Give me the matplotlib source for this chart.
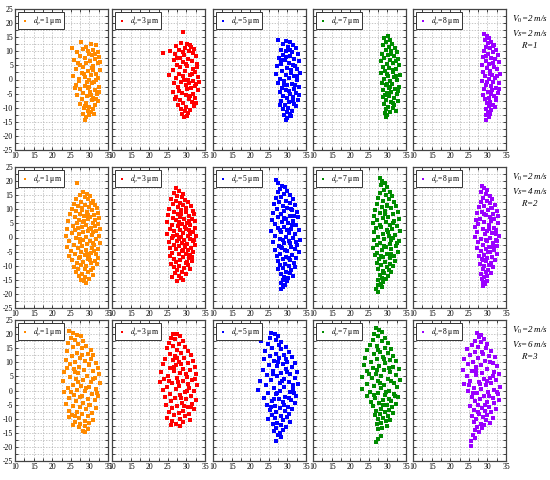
import numpy as np
import matplotlib
matplotlib.use('Agg')
import matplotlib.pyplot as plt
from matplotlib.ticker import MultipleLocator

plt.rcParams['font.family'] = ['Liberation Serif', 'DejaVu Serif']
plt.rcParams['mathtext.fontset'] = 'stix'
plt.rcParams['axes.unicode_minus'] = False

# particle positions (x, y), one list per panel
# row 1: V0=2 m/s, Vs=2 m/s, R=1
r1_d1 = [(27.8,13.2),(30.5,12.6),(31.7,12.1),(29.2,11.5),(25.2,11.0),(28.4,10.8),(31.0,10.3),(32.2,9.9),(26.6,9.6),(29.9,9.2),
         (30.8,8.6),(27.5,8.3),(32.7,8.0),(28.9,7.6),(31.6,7.2),(25.9,6.9),(30.2,6.5),(29.0,6.0),(32.4,5.7),(27.4,5.3),
         (31.1,4.9),(28.3,4.4),(30.6,4.0),(26.3,3.7),(32.9,3.3),(29.6,2.9),(27.9,2.4),(31.8,2.1),(30.3,1.6),(25.6,1.2),
         (28.7,0.8),(32.3,0.4),(29.9,0.0),(27.1,-0.5),(31.3,-0.9),(30.6,-1.3),(26.5,-1.8),(28.9,-2.2),(32.6,-2.6),(29.7,-3.0),
         (27.6,-3.5),(31.5,-3.9),(30.2,-4.3),(28.2,-4.8),(32.1,-5.2),(26.8,-5.6),(29.4,-6.0),(31.0,-6.5),(28.0,-7.0),(30.7,-7.4),
         (32.4,-7.8),(29.1,-8.3),(27.4,-8.8),(31.6,-9.2),(30.0,-9.6),(28.6,-10.1),(31.1,-10.6),(29.5,-11.0),(30.5,-11.6),(28.2,-12.1),
         (29.8,-12.7),(31.3,-12.3),(29.1,-13.4),(28.8,-14.2),(30.9,3.5),(29.3,-1.0),(31.9,-0.2),(28.5,1.8),(30.4,-5.5),(32.8,6.2),
         (27.0,5.9),(31.4,8.9),(29.6,10.1),(30.0,-2.8),(31.7,-7.0),(28.9,-9.4),(27.3,0.3),(32.5,-4.5),(26.0,-3.0)]
r1_d3 = [(29.0,17.0),(28.6,13.1),(30.2,12.7),(31.1,12.2),(27.2,11.8),(29.5,11.3),(32.0,10.9),(28.1,10.5),(23.8,9.5),(25.7,10.2),
         (30.7,10.0),(31.8,9.4),(27.0,9.0),(29.3,8.6),(32.6,8.2),(28.4,7.7),(30.4,7.3),(26.6,6.9),(31.5,6.5),(29.0,6.1),
         (32.9,5.6),(27.6,5.2),(30.1,4.8),(28.3,4.3),(31.9,3.9),(26.4,3.4),(29.7,3.0),(32.4,2.6),(27.9,2.1),(30.9,1.7),
         (25.3,1.5),(29.1,1.2),(33.2,0.8),(27.1,0.4),(30.5,0.0),(31.8,-0.4),(28.6,-0.8),(26.7,-1.3),(32.7,-1.7),(29.8,-2.1),
         (27.8,-2.6),(31.2,-3.0),(30.2,-3.5),(33.0,-3.9),(26.5,-4.3),(28.9,-4.7),(31.7,-5.2),(29.9,-5.6),(27.3,-6.1),(32.3,-6.5),
         (30.6,-7.0),(28.3,-7.4),(31.4,-7.9),(29.2,-8.4),(27.7,-8.9),(32.0,-9.3),(30.0,-9.8),(28.5,-10.3),(31.1,-10.8),(29.6,-11.3),
         (30.4,-11.9),(28.9,-12.4),(30.1,-12.9),(29.4,-13.3),(31.5,1.9),(30.0,5.5),(32.2,-2.4),(28.0,-4.0),(29.4,-0.3),(31.0,-6.0),
         (32.8,4.5),(27.5,7.8),(30.8,-1.2),(29.0,9.8),(26.9,-7.0),(32.5,-8.2),(31.2,11.6),(33.3,-0.9)]
r1_d5 = [(27.6,14.0),(29.6,13.5),(30.8,13.2),(28.8,12.6),(31.6,12.1),(30.2,11.6),(32.3,11.0),(28.4,10.6),(29.7,10.1),(31.3,9.7),
         (32.8,9.2),(28.9,8.7),(30.6,8.3),(27.8,7.8),(31.9,7.4),(29.4,6.9),(33.1,6.5),(30.3,6.0),(28.2,5.6),(31.5,5.1),
         (27.3,4.7),(29.8,4.2),(32.6,3.8),(30.9,3.3),(28.6,2.9),(33.3,2.4),(27.0,2.0),(29.5,1.5),(31.8,1.1),(30.4,0.6),
         (28.0,0.2),(32.7,-0.3),(29.2,-0.7),(27.5,-1.2),(31.2,-1.6),(30.0,-2.1),(33.0,-2.5),(28.5,-3.0),(31.9,-3.4),(29.6,-3.9),
         (27.9,-4.4),(32.4,-4.8),(30.7,-5.3),(28.8,-5.8),(31.4,-6.2),(29.9,-6.7),(32.9,-7.1),(28.3,-7.6),(30.5,-8.1),(31.7,-8.6),
         (29.3,-9.0),(32.2,-9.5),(30.1,-10.0),(28.9,-10.5),(31.3,-11.0),(29.8,-11.5),(30.7,-12.1),(29.2,-12.6),(31.0,-13.1),(30.0,-13.7),
         (29.5,-14.3),(31.0,2.4),(29.0,-1.8),(32.0,4.7),(30.3,-4.1),(28.4,6.9),(32.5,1.3),(31.6,-7.5),(29.6,8.0),(30.8,10.6),
         (33.2,-5.5),(28.1,-8.9),(32.0,-2.0)]
r1_d7 = [(30.1,15.3),(29.2,14.6),(30.6,13.9),(29.7,13.2),(31.3,12.7),(28.9,12.1),(30.4,11.6),(32.0,11.1),(29.5,10.6),(31.0,10.1),
         (32.6,9.6),(28.6,9.2),(30.2,8.7),(31.7,8.2),(29.1,7.7),(32.9,7.3),(30.8,6.8),(28.3,6.4),(31.6,5.9),(29.9,5.4),
         (33.1,5.0),(28.8,4.5),(30.5,4.0),(32.2,3.6),(29.4,3.1),(31.4,2.6),(28.2,2.2),(33.3,1.7),(30.1,1.2),(31.9,0.8),
         (29.0,0.3),(32.7,-0.2),(30.6,-0.7),(28.5,-1.1),(31.3,-1.6),(29.7,-2.1),(33.0,-2.5),(30.3,-3.0),(32.0,-3.5),(28.9,-3.9),
         (31.1,-4.4),(29.8,-4.9),(32.5,-5.3),(30.5,-5.8),(28.7,-6.3),(31.7,-6.7),(29.5,-7.2),(32.8,-7.6),(30.9,-8.1),(29.2,-8.6),
         (31.9,-9.1),(30.2,-9.6),(31.4,-10.1),(29.6,-10.6),(32.3,-11.0),(30.7,-11.5),(29.3,-12.0),(30.0,-12.6),(29.7,-13.2),(31.6,3.3),
         (30.0,-1.5),(32.3,6.4),(29.3,-5.5),(31.0,8.9),(32.9,-4.0),(30.8,-2.8),(29.9,2.0),(32.4,1.1),(31.5,-8.4)]
r1_d8 = [(29.0,16.1),(29.8,15.4),(30.5,14.6),(29.3,13.9),(31.1,13.4),(30.1,12.8),(31.8,12.2),(29.5,11.6),(30.8,11.1),(32.3,10.6),
         (29.0,10.1),(31.4,9.6),(30.2,9.1),(32.8,8.6),(28.7,8.1),(30.9,7.6),(32.0,7.1),(29.6,6.6),(33.1,6.1),(30.4,5.6),
         (28.5,5.1),(31.7,4.6),(29.9,4.1),(32.6,3.6),(30.8,3.1),(28.9,2.6),(33.3,2.1),(31.2,1.6),(29.4,1.1),(32.1,0.6),
         (30.3,0.1),(28.6,-0.4),(31.6,-0.9),(33.0,-1.4),(29.7,-1.9),(30.9,-2.4),(32.4,-2.9),(29.0,-3.4),(31.3,-3.9),(30.1,-4.4),
         (32.8,-4.9),(28.8,-5.4),(31.9,-5.9),(30.5,-6.4),(29.3,-6.9),(32.3,-7.4),(30.8,-7.9),(29.8,-8.4),(31.6,-8.9),(30.3,-9.4),
         (32.0,-9.9),(29.5,-10.4),(31.1,-10.9),(30.2,-11.5),(30.8,-12.1),(29.7,-12.7),(30.4,-13.3),(29.5,-14.2),(31.5,5.8),(30.0,-0.8),
         (32.5,1.2),(31.0,-5.0),(29.6,8.5),(33.0,-3.5),(32.2,-6.6),(30.6,2.0),(31.4,11.8)]

# row 2: V0=2 m/s, Vs=4 m/s, R=2
r2_d1 = [(26.8,19.4),(28.3,16.0),(29.4,15.6),(27.5,15.1),(30.1,14.7),(28.9,14.3),(26.4,13.8),(29.6,13.5),(31.0,13.1),(27.8,12.7),
         (30.4,12.3),(25.8,12.0),(28.7,11.7),(31.6,11.4),(27.0,11.0),(29.9,10.7),(32.0,10.3),(25.2,10.1),(28.1,9.9),(30.8,9.6),
         (26.5,9.3),(29.3,9.0),(32.4,8.8),(27.6,8.5),(24.8,8.2),(31.2,8.0),(28.6,7.7),(30.2,7.4),(26.1,7.1),(32.7,6.9),
         (29.5,6.6),(27.3,6.3),(31.6,6.1),(24.3,5.8),(28.2,5.6),(30.9,5.3),(26.8,5.0),(32.2,4.8),(29.1,4.5),(25.5,4.2),
         (31.5,4.0),(27.9,3.7),(30.3,3.4),(24.0,3.1),(32.8,2.9),(26.2,2.6),(29.5,2.3),(28.4,2.0),(31.1,1.8),(25.3,1.5),
         (27.2,1.2),(30.6,0.9),(32.5,0.6),(23.7,0.4),(29.0,0.1),(26.5,-0.2),(31.8,-0.5),(28.3,-0.8),(30.1,-1.1),(24.6,-1.4),
         (27.6,-1.7),(32.9,-1.9),(29.4,-2.2),(25.8,-2.5),(31.3,-2.8),(28.0,-3.1),(23.9,-3.4),(30.7,-3.7),(26.9,-3.9),(32.3,-4.2),
         (29.1,-4.5),(25.1,-4.8),(27.8,-5.1),(30.5,-5.4),(31.9,-5.7),(26.2,-5.9),(28.7,-6.2),(24.6,-6.5),(30.0,-6.8),(32.4,-7.1),
         (27.2,-7.4),(29.6,-7.7),(25.4,-8.0),(31.4,-8.3),(28.3,-8.6),(26.6,-8.9),(30.4,-9.2),(32.0,-9.5),(27.7,-9.8),(29.2,-10.1),
         (25.9,-10.4),(31.0,-10.7),(27.0,-11.0),(28.8,-11.3),(30.3,-11.7),(26.5,-12.1),(29.7,-12.4),(28.0,-12.8),(31.0,-13.2),(27.3,-13.6),
         (28.9,-14.1),(29.9,-14.6),(27.8,-15.0),(28.5,-15.6),(29.0,-16.3),(29.8,3.0),(27.5,-0.4),(30.9,-2.0),(28.6,6.0),(31.7,2.2),
         (29.3,-5.8),(26.9,3.5),(30.2,-8.0),(28.1,10.6),(31.3,-4.8),(27.4,-6.8),(29.7,8.1)]
r2_d3 = [(27.2,17.6),(28.1,16.6),(26.6,15.8),(29.0,15.3),(27.6,14.7),(28.8,14.2),(25.9,13.7),(29.7,13.4),(27.1,13.0),(30.5,12.6),
         (28.4,12.2),(26.3,11.8),(29.2,11.5),(31.2,11.1),(27.7,10.8),(30.0,10.4),(25.3,10.1),(28.6,9.8),(31.7,9.5),(26.8,9.2),
         (29.9,8.9),(27.8,8.5),(32.0,8.2),(25.0,7.9),(30.6,7.6),(28.3,7.3),(26.4,7.0),(31.5,6.7),(29.3,6.4),(27.3,6.1),
         (32.2,5.8),(24.7,5.5),(30.1,5.2),(28.8,4.9),(26.1,4.6),(31.1,4.3),(27.7,4.0),(29.6,3.7),(32.4,3.4),(25.5,3.1),
         (30.7,2.8),(28.2,2.5),(26.8,2.2),(31.8,1.9),(29.1,1.6),(24.9,1.3),(27.4,1.0),(30.3,0.7),(32.5,0.4),(28.5,0.1),
         (26.2,-0.2),(30.9,-0.5),(29.4,-0.8),(27.6,-1.1),(31.9,-1.4),(25.2,-1.7),(28.7,-1.9),(30.2,-2.2),(26.8,-2.5),(32.2,-2.8),
         (28.0,-3.1),(29.6,-3.4),(25.7,-3.7),(31.2,-3.9),(27.3,-4.2),(30.5,-4.5),(28.9,-4.8),(31.8,-5.1),(26.1,-5.4),(29.8,-5.7),
         (27.9,-6.0),(31.0,-6.3),(25.6,-6.6),(29.2,-6.9),(30.6,-7.2),(26.8,-7.6),(28.4,-8.0),(31.4,-8.3),(27.2,-8.7),(29.8,-9.0),
         (25.9,-9.4),(30.5,-9.7),(28.0,-10.1),(26.6,-10.5),(29.3,-10.8),(31.0,-11.2),(27.5,-11.6),(28.7,-12.1),(26.9,-12.6),(29.9,-13.0),
         (27.9,-13.5),(26.0,-13.9),(28.6,-14.5),(29.2,-15.1),(27.6,-15.3),(30.0,3.0),(28.0,-0.4),(31.0,1.2),(29.0,-4.3),(30.8,5.9),
         (27.9,5.5),(29.5,-2.5),(31.5,-6.8),(28.6,8.2),(26.5,0.5),(30.2,-8.6),(32.0,-0.8)]
r2_d5 = [(27.0,20.3),(27.6,19.2),(28.5,18.4),(29.4,17.9),(28.0,17.1),(30.0,16.5),(27.4,16.0),(29.0,15.5),(30.8,15.0),(28.2,14.5),
         (26.9,14.0),(31.5,13.6),(29.6,13.1),(27.8,12.6),(30.6,12.2),(26.4,11.8),(32.1,11.4),(28.8,11.0),(30.0,10.6),(27.2,10.2),
         (31.3,9.8),(29.2,9.4),(32.6,9.0),(26.1,8.6),(28.3,8.2),(30.7,7.8),(27.5,7.4),(32.9,7.1),(29.5,6.7),(25.8,6.3),
         (31.6,5.9),(28.6,5.5),(30.2,5.1),(26.8,4.7),(32.4,4.3),(29.0,3.9),(27.4,3.5),(31.1,3.1),(33.2,2.7),(25.6,2.3),
         (28.3,1.9),(30.5,1.5),(32.0,1.1),(26.6,0.7),(29.7,0.3),(31.6,-0.1),(27.9,-0.5),(33.3,-0.9),(30.3,-1.3),(26.2,-1.7),
         (29.1,-2.1),(32.5,-2.5),(27.7,-2.9),(30.9,-3.3),(28.6,-3.7),(32.0,-4.1),(26.7,-4.5),(30.0,-4.9),(33.0,-5.3),(28.1,-5.7),
         (31.3,-6.1),(27.2,-6.5),(29.6,-6.9),(32.3,-7.3),(28.8,-7.7),(30.7,-8.1),(27.4,-8.5),(31.8,-8.9),(29.3,-9.3),(28.0,-9.7),
         (30.4,-10.1),(32.0,-10.5),(28.7,-10.9),(27.6,-11.3),(31.1,-11.7),(29.5,-12.1),(30.6,-12.6),(28.3,-13.0),(31.5,-13.5),(29.1,-14.0),
         (30.2,-14.5),(28.7,-15.0),(29.8,-15.6),(28.4,-16.2),(29.4,-16.8),(28.9,-17.5),(28.2,-18.3),(30.0,2.5),(28.9,-0.9),(31.2,4.6),
         (29.4,-4.5),(30.8,-2.0),(27.9,2.8),(31.9,7.5),(30.3,-7.2),(29.0,7.0),(32.4,-1.5),(28.2,-3.3),(31.0,10.0)]
r2_d7 = [(28.0,21.0),(28.6,20.1),(29.3,19.3),(28.3,18.5),(30.0,17.8),(29.0,17.0),(30.7,16.3),(28.0,15.7),(29.6,15.1),(31.3,14.6),
         (27.5,14.1),(30.3,13.5),(28.8,13.0),(31.9,12.5),(27.2,12.0),(29.9,11.6),(32.4,11.2),(28.5,10.7),(30.9,10.3),(26.8,9.9),
         (29.3,9.4),(32.8,9.0),(27.9,8.6),(31.5,8.2),(26.4,7.8),(30.2,7.4),(28.7,7.0),(33.1,6.6),(27.3,6.2),(31.8,5.8),
         (29.5,5.4),(26.1,5.0),(30.6,4.6),(32.6,4.2),(28.2,3.8),(27.0,3.4),(31.2,3.0),(29.8,2.6),(33.3,2.2),(26.3,1.8),
         (28.9,1.4),(32.1,1.0),(30.4,0.6),(27.6,0.2),(31.6,-0.2),(29.2,-0.6),(26.5,-1.0),(33.0,-1.4),(28.1,-1.8),(30.7,-2.2),
         (27.3,-2.6),(32.3,-3.0),(29.6,-3.4),(26.2,-3.8),(31.1,-4.2),(28.5,-4.6),(32.8,-5.0),(27.2,-5.4),(30.0,-5.8),(26.7,-6.2),
         (31.7,-6.6),(28.9,-7.0),(30.6,-7.4),(27.8,-7.8),(32.0,-8.2),(29.3,-8.6),(27.1,-9.0),(30.8,-9.4),(28.4,-9.8),(31.4,-10.2),
         (29.8,-10.6),(27.6,-11.0),(30.3,-11.4),(28.7,-11.8),(31.0,-12.2),(29.1,-12.7),(27.9,-13.2),(30.2,-13.7),(28.6,-14.2),(29.6,-14.7),
         (27.4,-15.2),(28.9,-15.8),(28.2,-16.4),(27.6,-17.0),(28.6,-17.6),(27.0,-18.4),(27.4,-19.3),(30.1,1.9),(29.0,-2.9),(31.5,5.0),
         (28.0,4.6),(30.9,-6.0),(29.4,8.2),(32.5,-1.8),(28.3,-6.6),(31.0,-0.9),(30.0,11.0)]
r2_d8 = [(28.6,18.3),(29.2,17.4),(30.0,16.8),(28.4,16.0),(29.6,15.3),(30.8,14.7),(28.9,14.1),(31.3,13.6),(29.9,13.1),(28.2,12.6),
         (30.7,12.1),(32.0,11.7),(29.2,11.2),(27.7,10.8),(31.2,10.4),(30.2,9.9),(32.5,9.5),(28.6,9.1),(27.2,8.7),(31.6,8.3),
         (29.5,7.9),(32.8,7.5),(30.6,7.1),(28.0,6.7),(26.9,6.3),(31.1,5.9),(29.2,5.5),(32.9,5.1),(27.6,4.7),(30.3,4.3),
         (26.6,3.9),(31.8,3.5),(28.7,3.1),(32.4,2.7),(30.0,2.3),(27.2,1.9),(31.3,1.5),(29.4,1.1),(33.0,0.7),(26.8,0.3),
         (30.6,-0.1),(28.3,-0.5),(32.2,-0.9),(29.8,-1.3),(27.6,-1.7),(31.6,-2.1),(28.9,-2.5),(32.7,-2.9),(30.4,-3.3),(27.3,-3.7),
         (29.5,-4.1),(31.9,-4.5),(28.2,-4.9),(30.8,-5.3),(32.5,-5.7),(29.1,-6.1),(27.8,-6.5),(31.2,-6.9),(30.0,-7.3),(28.6,-7.7),
         (32.0,-8.1),(29.6,-8.5),(31.0,-8.9),(28.1,-9.3),(30.5,-9.7),(29.2,-10.1),(31.5,-10.6),(28.7,-11.1),(30.2,-11.6),(29.5,-12.1),
         (31.0,-12.6),(28.4,-13.1),(30.0,-13.6),(29.1,-14.1),(28.6,-14.7),(29.8,-15.3),(28.9,-15.9),(29.4,-16.5),(28.7,-17.2),(30.5,3.0),
         (29.6,-0.8),(31.8,6.5),(30.2,-5.0),(32.3,1.2),(29.0,8.5),(31.4,-3.5),(30.9,10.5),(28.9,-8.0),(32.6,-1.2)]

# row 3: V0=2 m/s, Vs=6 m/s, R=3
r3_d1 = [(24.6,21.0),(25.5,20.3),(26.7,19.8),(27.8,19.2),(25.0,18.6),(26.1,18.0),(28.3,17.5),(24.3,16.9),(27.0,16.4),(29.1,15.9),
         (25.6,15.4),(28.0,14.9),(30.3,14.4),(23.9,13.9),(26.7,13.4),(29.5,12.9),(31.1,12.5),(25.2,12.1),(27.6,11.7),(30.4,11.3),
         (23.6,10.9),(28.9,10.5),(26.1,10.1),(31.8,9.7),(24.8,9.3),(29.9,8.9),(27.3,8.5),(32.4,8.1),(25.9,7.7),(28.5,7.3),
         (30.9,6.9),(23.3,6.5),(27.0,6.1),(32.6,5.7),(29.4,5.3),(24.7,4.9),(31.5,4.5),(26.4,4.1),(28.2,3.7),(22.8,3.3),
         (30.4,2.9),(32.9,2.5),(25.5,2.1),(27.7,1.7),(29.9,1.3),(24.2,0.9),(31.7,0.5),(26.8,0.1),(28.9,-0.3),(23.1,-0.7),
         (30.8,-1.1),(25.8,-1.5),(32.4,-1.9),(27.5,-2.3),(24.5,-2.7),(29.6,-3.1),(31.5,-3.5),(26.5,-3.9),(28.4,-4.3),(23.8,-4.7),
         (30.2,-5.1),(25.6,-5.5),(27.4,-5.9),(31.9,-6.3),(29.1,-6.7),(24.6,-7.1),(26.8,-7.5),(30.6,-7.9),(28.0,-8.3),(25.3,-8.7),
         (29.6,-9.1),(24.4,-9.5),(27.1,-9.9),(31.0,-10.3),(28.7,-10.7),(26.0,-11.1),(29.9,-11.5),(27.6,-11.9),(25.7,-12.3),(28.9,-12.7),
         (27.3,-13.1),(29.6,-13.6),(28.4,-14.2),(28.8,-14.8),(27.0,3.0),(29.0,1.0),(26.0,6.5),(30.0,9.5),(28.0,-2.0),(25.0,-0.5),
         (31.0,4.0),(27.9,12.5),(29.8,-5.2),(26.2,-9.0),(32.0,-0.8),(24.0,8.0)]
r3_d3 = [(26.4,20.2),(27.6,20.0),(28.3,19.3),(25.8,18.7),(27.0,18.1),(29.0,17.6),(25.3,17.0),(28.0,16.5),(26.3,15.9),(29.7,15.4),
         (24.7,14.9),(27.5,14.4),(30.5,13.9),(28.6,13.4),(25.6,12.9),(31.2,12.5),(27.0,12.1),(29.4,11.7),(24.2,11.3),(26.5,10.9),
         (31.7,10.5),(28.1,10.1),(30.4,9.7),(23.6,9.3),(27.3,8.9),(32.2,8.5),(25.5,8.1),(29.0,7.7),(31.0,7.3),(26.8,6.9),
         (23.2,6.5),(28.3,6.1),(32.6,5.7),(25.0,5.3),(30.1,4.9),(27.5,4.5),(24.0,4.1),(31.6,3.7),(29.2,3.3),(22.8,2.9),
         (26.2,2.5),(32.9,2.1),(28.0,1.7),(24.8,1.3),(30.6,0.9),(27.2,0.5),(23.7,0.1),(32.1,-0.3),(29.5,-0.7),(25.7,-1.1),
         (28.3,-1.5),(31.2,-1.9),(24.3,-2.3),(27.0,-2.7),(30.0,-3.1),(32.7,-3.5),(25.9,-3.9),(28.7,-4.3),(31.5,-4.7),(24.6,-5.1),
         (27.4,-5.5),(30.3,-5.9),(26.1,-6.3),(32.0,-6.7),(29.0,-7.1),(25.3,-7.5),(27.9,-7.9),(30.8,-8.3),(26.8,-8.7),(29.5,-9.1),
         (24.8,-9.6),(28.2,-10.0),(31.0,-10.4),(26.0,-10.9),(29.0,-11.3),(27.3,-11.8),(25.8,-12.2),(28.3,-12.5),(27.8,3.0),(29.8,6.0),
         (28.5,-2.5),(30.5,2.2),(26.7,8.3),(31.3,-6.0),(27.4,11.5),(29.4,-5.5),(25.2,3.5),(30.2,-0.2),(32.4,4.0),(28.6,9.3)]
r3_d5 = [(25.6,20.5),(26.6,19.9),(27.5,19.2),(23.0,17.6),(25.3,18.5),(26.9,17.8),(28.4,17.2),(24.7,16.6),(27.8,16.1),(29.5,15.6),
         (25.9,15.1),(28.4,14.6),(24.0,14.1),(30.4,13.6),(27.0,13.1),(29.2,12.6),(25.2,12.2),(31.2,11.8),(27.8,11.4),(23.8,11.0),
         (26.4,10.6),(30.0,10.2),(32.0,9.8),(28.7,9.4),(25.0,9.0),(27.2,8.6),(31.3,8.2),(29.5,7.8),(23.5,7.4),(26.2,7.0),
         (32.6,6.6),(28.3,6.2),(30.7,5.8),(24.6,5.4),(27.3,5.0),(32.0,4.6),(29.2,4.2),(25.5,3.8),(22.6,3.4),(30.5,3.0),
         (27.9,2.6),(32.9,2.2),(24.2,1.8),(29.2,1.4),(26.4,1.0),(31.5,0.6),(22.2,0.2),(28.1,-0.2),(30.8,-0.6),(24.8,-1.0),
         (26.9,-1.4),(32.3,-1.8),(29.4,-2.2),(23.6,-2.6),(27.7,-3.0),(31.0,-3.4),(25.8,-3.8),(28.8,-4.2),(32.0,-4.6),(24.4,-5.0),
         (26.7,-5.4),(30.2,-5.8),(28.0,-6.2),(31.2,-6.6),(25.3,-7.0),(29.4,-7.4),(27.0,-7.8),(30.5,-8.2),(25.8,-8.6),(28.3,-9.0),
         (29.9,-9.4),(26.7,-9.8),(24.8,-10.2),(28.9,-10.6),(30.8,-11.0),(27.3,-11.4),(26.0,-11.8),(28.4,-12.3),(29.5,-12.8),(27.0,-13.3),
         (28.8,-13.9),(26.4,-14.5),(28.1,-15.1),(27.6,-15.8),(28.3,-16.6),(27.0,-17.8),(28.5,3.3),(27.2,-0.8),(30.0,6.7),(29.0,-5.0),
         (26.0,5.9),(31.4,2.0),(27.5,10.0),(30.3,-2.8),(25.5,-6.0),(29.7,11.0),(31.7,-1.0),(26.5,-3.0)]
r3_d7 = [(27.0,22.2),(27.8,21.4),(28.6,20.6),(26.5,19.9),(27.6,19.2),(29.4,18.6),(26.0,18.0),(28.5,17.4),(30.1,16.8),(25.4,16.2),
         (27.3,15.7),(29.3,15.2),(31.0,14.7),(24.6,14.2),(28.0,13.7),(30.2,13.2),(26.3,12.8),(31.6,12.4),(28.9,12.0),(24.1,11.6),
         (27.2,11.2),(30.6,10.8),(32.3,10.4),(25.5,10.0),(29.4,9.6),(23.7,9.2),(27.8,8.8),(31.4,8.4),(26.0,8.0),(33.0,7.6),
         (29.2,7.2),(24.5,6.8),(30.8,6.4),(27.0,6.0),(32.3,5.6),(28.4,5.2),(23.3,4.8),(25.8,4.4),(30.1,4.0),(33.3,3.6),
         (27.6,3.2),(31.8,2.8),(24.4,2.4),(29.0,2.0),(26.5,1.6),(32.7,1.2),(28.3,0.8),(23.2,0.4),(30.5,0.0),(25.4,-0.4),
         (27.4,-0.8),(31.7,-1.2),(29.4,-1.6),(24.6,-2.0),(32.8,-2.4),(26.6,-2.8),(28.8,-3.2),(30.9,-3.6),(25.6,-4.0),(27.7,-4.4),
         (32.3,-4.8),(29.8,-5.2),(26.0,-5.6),(31.2,-6.0),(28.2,-6.4),(30.3,-6.8),(27.0,-7.2),(29.3,-7.6),(31.6,-8.0),(28.0,-8.4),
         (26.6,-8.8),(30.2,-9.2),(28.8,-9.6),(27.5,-10.0),(30.8,-10.4),(29.5,-10.9),(28.3,-11.4),(27.2,-12.0),(29.8,-12.5),(28.5,-13.2),
         (27.6,-13.8),(28.4,-16.3),(27.5,-17.2),(26.9,-18.2),(28.0,2.8),(29.5,-0.5),(27.2,7.3),(30.3,8.0),(26.3,-1.5),(31.0,3.5),
         (29.0,11.0),(28.7,-5.0),(32.0,-2.0),(25.0,6.0),(30.5,-3.0),(27.5,14.5)]
r3_d8 = [(27.3,20.3),(28.4,19.8),(27.8,19.0),(29.0,18.3),(26.6,17.7),(28.2,17.2),(30.0,16.6),(25.8,16.1),(27.6,15.6),(29.6,15.1),
         (24.4,14.6),(31.0,14.1),(26.7,13.6),(28.8,13.1),(25.3,12.6),(30.5,12.2),(32.0,11.8),(27.5,11.4),(23.8,11.0),(29.4,10.6),
         (26.2,10.2),(31.4,9.8),(24.9,9.4),(28.3,9.0),(32.6,8.6),(27.0,8.2),(30.0,7.8),(23.5,7.4),(25.8,7.0),(31.7,6.6),
         (28.6,6.2),(33.0,5.8),(26.9,5.4),(24.4,5.0),(30.6,4.6),(29.0,4.2),(32.4,3.8),(25.4,3.4),(27.7,3.0),(31.0,2.6),
         (23.6,2.2),(29.6,1.8),(33.3,1.4),(26.4,1.0),(28.4,0.6),(31.9,0.2),(24.8,-0.2),(30.2,-0.6),(27.2,-1.0),(32.8,-1.4),
         (29.0,-1.8),(25.8,-2.2),(31.4,-2.6),(28.1,-3.0),(33.1,-3.4),(26.6,-3.8),(29.9,-4.2),(31.9,-4.6),(27.5,-5.0),(25.2,-5.4),
         (30.5,-5.8),(28.6,-6.2),(32.3,-6.6),(26.5,-7.0),(29.4,-7.4),(31.0,-7.8),(27.8,-8.2),(30.0,-8.6),(25.9,-9.0),(28.8,-9.4),
         (31.4,-9.8),(27.0,-10.2),(29.6,-10.6),(26.3,-11.0),(30.6,-11.4),(28.2,-11.8),(29.2,-12.3),(27.3,-12.8),(28.6,-13.4),(26.8,-14.1),
         (27.7,-14.8),(26.1,-15.7),(26.6,-16.8),(25.7,-17.9),(25.5,-19.6),(28.0,2.4),(30.4,-2.0),(27.0,6.8),(31.5,5.0),(29.3,-5.3),
         (26.0,-0.8),(30.8,10.0),(28.5,13.8),(32.5,-0.5),(27.6,-7.5),(29.8,3.5),(25.0,1.8)]

diameters = [1, 3, 5, 7, 8]
colors = ['#ff8a00', '#ff0000', '#0000ff', '#008c00', '#9a00ff']
V0 = [2, 2, 2]
Vs = [2, 4, 6]
R = [1, 2, 3]
clouds = [[r1_d1, r1_d3, r1_d5, r1_d7, r1_d8],
          [r2_d1, r2_d3, r2_d5, r2_d7, r2_d8],
          [r3_d1, r3_d3, r3_d5, r3_d7, r3_d8]]

W, H = 550, 480
lefts = [15, 112, 213, 313, 413]
tops = [9, 167, 320]
pw, ph = 93, 141

fig = plt.figure(figsize=(W/100, H/100), dpi=100)

for i in range(3):
    for j in range(5):
        ax = fig.add_axes([lefts[j]/W, 1-(tops[i]+ph)/H, pw/W, ph/H])
        pts = np.array(clouds[i][j])
        ax.scatter(pts[:, 0], pts[:, 1], s=6, marker='s', color=colors[j],
                   linewidths=0, label=r'$d_p$=%d μm' % diameters[j], zorder=3)
        ax.set_xlim(10, 35)
        ax.set_ylim(-25, 25)
        ax.xaxis.set_major_locator(MultipleLocator(5))
        ax.xaxis.set_minor_locator(MultipleLocator(2.5))
        ax.yaxis.set_major_locator(MultipleLocator(5))
        ax.yaxis.set_minor_locator(MultipleLocator(2.5))
        ax.grid(which='both', color='#b0b0b0', linestyle=(0, (2, 2)), linewidth=0.5)
        ax.set_axisbelow(True)
        ax.tick_params(which='both', direction='in', top=True, right=True,
                       length=2, width=0.5, labelsize=5.5, pad=1.5)
        if j > 0:
            ax.tick_params(labelleft=False)
        for sp in ax.spines.values():
            sp.set_color('#444444')
            sp.set_linewidth(0.9)
        leg = ax.legend(loc='upper left', fontsize=5.5, frameon=True, fancybox=False,
                        edgecolor='#333333', framealpha=1, handletextpad=0.4,
                        borderpad=0.3, handlelength=1.2, borderaxespad=0.4, markerscale=0.8)
        leg.get_frame().set_linewidth(0.7)

    fig.text(530/W, 1-(tops[i]+5)/H,
             '$V_0$=%d m/s\n$Vs$=%d m/s\n$R$=%d' % (V0[i], Vs[i], R[i]),
             ha='center', va='top', fontsize=6.5, style='italic', linespacing=1.3)

fig.savefig('out.png', dpi=100)
